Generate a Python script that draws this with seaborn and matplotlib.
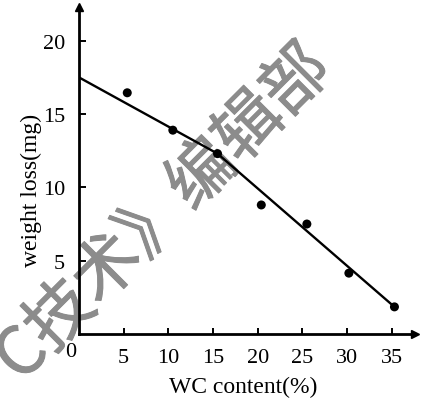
import matplotlib
matplotlib.use("Agg")
import matplotlib.pyplot as plt
import matplotlib.patheffects as pe
import pandas as pd
import seaborn as sns

# Measured weight loss against WC content
wc_content = [5.4, 10.5, 15.5, 20.4, 25.5, 30.2, 35.3]
weight_loss = [16.45, 13.9, 12.3, 8.8, 7.5, 4.15, 1.85]

# Hand-drawn trend line (broken line through the data)
trend_x = [0.0, 15.5, 35.3]
trend_y = [17.5, 12.3, 1.85]

x_ticks = [5, 10, 15, 20, 25, 30, 35]
y_ticks = [5, 10, 15, 20]

points = pd.DataFrame({"wc": wc_content, "loss": weight_loss})
trend = pd.DataFrame({"wc": trend_x, "loss": trend_y})

sns.set_theme(style="white")
plt.rcParams["font.family"] = ["Liberation Serif", "DejaVu Serif"]

fig = plt.figure(figsize=(4.21, 4.06), dpi=100)
ax = fig.add_axes([79 / 421, 71 / 406, (415 - 79) / 421, (398 - 71) / 406])
ax.patch.set_alpha(0)

# Watermark behind the plot
mark_color = "#8c8c8c"
fig.text(0.39, 0.47, "C技术》编辑部", rotation=45, rotation_mode="anchor",
         ha="center", va="center", fontsize=48, color=mark_color,
         family=["Noto Sans CJK SC", "DejaVu Sans"], weight="normal", zorder=-1,
         path_effects=[pe.withStroke(linewidth=0.7, foreground=mark_color)])

sns.lineplot(data=trend, x="wc", y="loss", sort=False, estimator=None,
             color="black", linewidth=1.7, ax=ax)
sns.scatterplot(data=points, x="wc", y="loss", color="black", s=42,
                edgecolor="none", ax=ax, zorder=5)

ax.set_xlim(0, 37.6)
ax.set_ylim(0, 22.3)
ax.set_xticks(x_ticks)
ax.set_yticks(y_ticks)
ax.set_xticklabels([str(t) for t in x_ticks])
ax.set_yticklabels([str(t) for t in y_ticks])

for side in ["top", "right"]:
    ax.spines[side].set_visible(False)
for side in ["left", "bottom"]:
    ax.spines[side].set_color("black")
    ax.spines[side].set_linewidth(2.0)

ax.tick_params(axis="y", direction="in", length=5, width=1.4, pad=10,
               labelsize=16, colors="black", left=True)
ax.tick_params(axis="x", direction="in", length=4, width=1.4, pad=10,
               labelsize=16, colors="black", bottom=True)

# Axis arrows
ax.plot(1, 0, ">", color="black", markersize=6, transform=ax.transAxes, clip_on=False)
ax.plot(0, 1, "^", color="black", markersize=6, transform=ax.transAxes, clip_on=False)

# Shared origin label
ax.text(-0.024, -0.052, "0", transform=ax.transAxes, ha="center", va="center",
        fontsize=16, color="black", clip_on=False)

ax.set_xlabel("WC content(%)", fontsize=17, color="black")
ax.set_ylabel("weight loss(mg)", fontsize=17, color="black")
ax.xaxis.set_label_coords(0.488, -0.128)
ax.yaxis.set_label_coords(-0.11, 0.443)

fig.savefig("out.png", dpi=100, facecolor="white")
